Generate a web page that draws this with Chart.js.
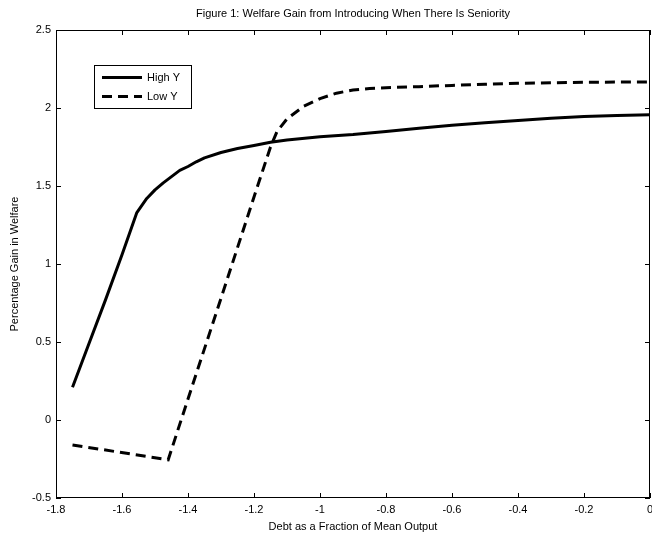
<!DOCTYPE html>
<html>
<head>
<meta charset="utf-8">
<script src="https://cdn.jsdelivr.net/npm/chart.js@4/dist/chart.umd.min.js"></script>
<style>
  html, body { margin: 0; padding: 0; background: #fff; }
  #wrap { width: 652px; height: 533px; position: relative; }
</style>
</head>
<body>
<div id="wrap"><canvas id="c" width="652" height="533"></canvas></div>
<script>
const titleText = "Figure 1: Welfare Gain from Introducing When There Is Seniority";
const xAxisTitle = "Debt as a Fraction of Mean Output";
const yAxisTitle = "Percentage Gain in Welfare";
const seriesNames = ["High Y", "Low Y"];

const xTicks = [-1.8, -1.6, -1.4, -1.2, -1, -0.8, -0.6, -0.4, -0.2, 0];
const yTicks = [-0.5, 0, 0.5, 1, 1.5, 2, 2.5];

const highX = [-1.75, -1.70, -1.65, -1.60, -1.555, -1.525, -1.50, -1.475, -1.45, -1.425, -1.40, -1.375, -1.35, -1.30, -1.25, -1.20, -1.15, -1.10, -1.00, -0.90, -0.80, -0.70, -0.60, -0.50, -0.40, -0.30, -0.20, -0.10, 0];
const highY = [0.21, 0.49, 0.77, 1.06, 1.33, 1.42, 1.475, 1.52, 1.56, 1.60, 1.625, 1.655, 1.68, 1.715, 1.74, 1.76, 1.78, 1.795, 1.815, 1.83, 1.85, 1.87, 1.89, 1.905, 1.92, 1.935, 1.945, 1.952, 1.957];

const lowX = [-1.75, -1.46, -1.40, -1.30, -1.20, -1.15, -1.13, -1.10, -1.05, -1.00, -0.95, -0.90, -0.85, -0.80, -0.70, -0.60, -0.50, -0.40, -0.30, -0.20, -0.10, 0];
const lowY = [-0.16, -0.255, 0.135, 0.78, 1.43, 1.75, 1.85, 1.93, 2.01, 2.06, 2.095, 2.115, 2.125, 2.13, 2.137, 2.145, 2.152, 2.158, 2.162, 2.165, 2.166, 2.167];

const FONT = "'Liberation Sans', Arial, sans-serif";

function pts(xs, ys) { return xs.map((x, i) => ({ x: x, y: ys[i] })); }

const framePlugin = {
  id: 'frame',
  afterDraw(chart) {
    const ctx = chart.ctx;
    const a = chart.chartArea;
    const xs = chart.scales.x, ys = chart.scales.y;
    ctx.save();
    ctx.strokeStyle = '#000';
    ctx.lineWidth = 1;
    ctx.strokeRect(a.left + 0.5, a.top + 0.5, a.right - a.left - 1, a.bottom - a.top - 1);
    const L = 5;
    ctx.beginPath();
    xTicks.forEach(v => {
      const px = Math.round(xs.getPixelForValue(v)) + 0.5;
      ctx.moveTo(px, a.bottom); ctx.lineTo(px, a.bottom - L);
      ctx.moveTo(px, a.top); ctx.lineTo(px, a.top + L);
    });
    yTicks.forEach(v => {
      const py = Math.round(ys.getPixelForValue(v)) + 0.5;
      ctx.moveTo(a.left, py); ctx.lineTo(a.left + L, py);
      ctx.moveTo(a.right, py); ctx.lineTo(a.right - L, py);
    });
    ctx.stroke();

    // title
    ctx.fillStyle = '#000';
    ctx.font = '11px ' + FONT;
    ctx.textAlign = 'center';
    ctx.textBaseline = 'middle';
    ctx.fillText(titleText, (a.left + a.right) / 2, 14);

    // legend
    const bx = 94.5, by = 65.5, bw = 97, bh = 43;
    ctx.fillStyle = '#fff';
    ctx.fillRect(bx, by, bw, bh);
    ctx.strokeStyle = '#000';
    ctx.lineWidth = 1;
    ctx.strokeRect(bx, by, bw, bh);
    const rows = [77.5, 96.5];
    chart.data.datasets.forEach((ds, i) => {
      ctx.beginPath();
      ctx.lineWidth = ds.borderWidth;
      ctx.setLineDash(ds.borderDash || []);
      ctx.moveTo(102, rows[i]); ctx.lineTo(142, rows[i]);
      ctx.stroke();
      ctx.setLineDash([]);
      ctx.fillStyle = '#000';
      ctx.textAlign = 'left';
      ctx.fillText(ds.label, 147, rows[i]);
    });
    ctx.restore();
  }
};

new Chart(document.getElementById('c'), {
  type: 'line',
  data: {
    datasets: [
      { label: seriesNames[0], data: pts(highX, highY), borderColor: '#000', borderWidth: 3, pointRadius: 0, fill: false, tension: 0, borderCapStyle: 'butt', borderJoinStyle: 'round' },
      { label: seriesNames[1], data: pts(lowX, lowY), borderColor: '#000', borderWidth: 3, borderDash: [10, 6], pointRadius: 0, fill: false, tension: 0, borderCapStyle: 'butt', borderJoinStyle: 'miter' }
    ]
  },
  options: {
    responsive: false,
    animation: false,
    devicePixelRatio: 1,
    layout: { padding: { top: 30, right: 2, left: 0, bottom: 0 } },
    plugins: { legend: { display: false }, title: { display: false }, tooltip: { enabled: false } },
    scales: {
      x: {
        type: 'linear', min: -1.8, max: 0,
        afterBuildTicks(s) { s.ticks = xTicks.map(v => ({ value: v })); },
        afterFit(s) { s.height = 35; s.paddingLeft = 0; s.paddingRight = 0; },
        grid: { display: false, drawTicks: false },
        border: { display: false },
        ticks: { color: '#000', font: { family: FONT, size: 11 }, padding: 5, maxRotation: 0, autoSkip: false, callback: v => String(v) },
        title: { display: true, text: xAxisTitle, color: '#000', font: { family: FONT, size: 11 }, padding: { top: 0, bottom: -1 } }
      },
      y: {
        type: 'linear', min: -0.5, max: 2.5,
        afterBuildTicks(s) { s.ticks = yTicks.map(v => ({ value: v })); },
        afterFit(s) { s.width = 56; s.paddingTop = 0; s.paddingBottom = 0; },
        grid: { display: false, drawTicks: false },
        border: { display: false },
        ticks: { color: '#000', font: { family: FONT, size: 11 }, padding: 5, autoSkip: false, callback: v => String(v) },
        title: { display: true, text: yAxisTitle, color: '#000', font: { family: FONT, size: 11 }, padding: { top: 8, bottom: 0 } }
      }
    }
  },
  plugins: [framePlugin]
});
</script>
</body>
</html>
